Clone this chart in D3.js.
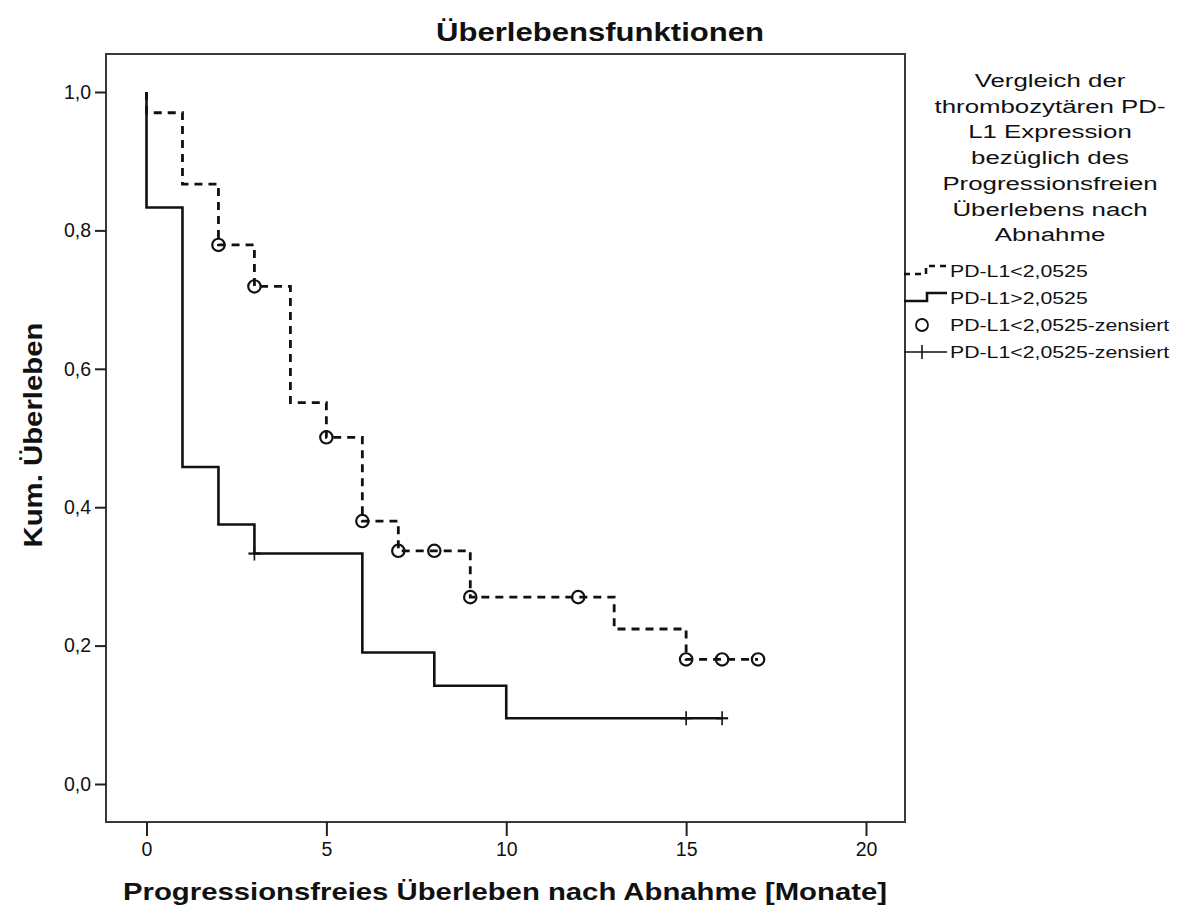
<!DOCTYPE html>
<html>
<head>
<meta charset="utf-8">
<script src="https://cdn.jsdelivr.net/npm/d3@7"></script>
<style>
  html, body { margin: 0; padding: 0; background: #fff; }
  svg { display: block; font-family: "Liberation Sans", Arial, sans-serif; }
</style>
</head>
<body>
<svg id="chart" width="1183" height="914"></svg>
<script>
// Kaplan-Meier survival estimates, group PD-L1 < 2,0525 (dashed)
const lowTimes = [0, 0, 1, 2, 3, 4, 5, 6, 7, 9, 13, 15, 17];
const lowSurv  = [1.0, 0.970, 0.867, 0.779, 0.719, 0.551, 0.501, 0.380, 0.337, 0.270, 0.224, 0.180, 0.180];
const lowCensored = [2, 3, 5, 6, 7, 8, 9, 12, 15, 16, 17];

// Group PD-L1 > 2,0525 (solid)
const highTimes = [0, 0, 1, 2, 3, 6, 8, 10, 16];
const highSurv  = [1.0, 0.833, 0.458, 0.375, 0.333, 0.190, 0.142, 0.095, 0.095];
const highCensored = [3, 15, 16];

const xTicks = [0, 5, 10, 15, 20];
const yTicks = [0, 0.2, 0.4, 0.6, 0.8, 1.0];

const titleText = "Überlebensfunktionen";
const xLabel = "Progressionsfreies Überleben nach Abnahme [Monate]";
const yLabel = "Kum. Überleben";
const legendTitle = ["Vergleich der", "thrombozytären PD-", "L1 Expression", "bezüglich des",
                     "Progressionsfreien", "Überlebens nach", "Abnahme"];
const legendLabels = ["PD-L1<2,0525", "PD-L1>2,0525", "PD-L1<2,0525-zensiert", "PD-L1<2,0525-zensiert"];

const svg = d3.select("#chart");
const frame = { left: 106, top: 54, right: 905, bottom: 822 };

const x = d3.scaleLinear().domain([0, 20]).range([146.5, 866]);
const y = d3.scaleLinear().domain([0, 1]).range([784, 92]);

// plot frame
svg.append("rect")
  .attr("x", frame.left).attr("y", frame.top)
  .attr("width", frame.right - frame.left).attr("height", frame.bottom - frame.top)
  .attr("fill", "none").attr("stroke", "#3a3a3a").attr("stroke-width", 2);

const fmt = d => d3.format(".1f")(d).replace(".", ",");

const yAxis = svg.append("g")
  .attr("transform", `translate(${frame.left},0)`)
  .call(d3.axisLeft(y).tickValues(yTicks).tickFormat(fmt).tickSize(11).tickPadding(4));
const xAxis = svg.append("g")
  .attr("transform", `translate(0,${frame.bottom})`)
  .call(d3.axisBottom(x).tickValues(xTicks).tickFormat(d3.format("d")).tickSize(14).tickPadding(6));
[yAxis, xAxis].forEach(a => {
  a.select(".domain").remove();
  a.selectAll(".tick line").attr("stroke", "#222").attr("stroke-width", 2);
  a.selectAll(".tick text").attr("fill", "#111")
    .style("font-family", "'Liberation Sans', Arial, sans-serif").style("font-size", "19.5px");
});

// step curves
const line = d3.line().curve(d3.curveStepAfter).x(d => x(d[0])).y(d => y(d[1]));
const lowPts = lowTimes.map((t, i) => [t, lowSurv[i]]);
const highPts = highTimes.map((t, i) => [t, highSurv[i]]);

svg.append("path").datum(highPts).attr("d", line)
  .attr("fill", "none").attr("stroke", "#111").attr("stroke-width", 2.6);
svg.append("path").datum(lowPts).attr("d", line)
  .attr("fill", "none").attr("stroke", "#111").attr("stroke-width", 2.8)
  .attr("stroke-dasharray", "8,6");

// value of a step curve at time t
function stepAt(times, surv, t) {
  let v = surv[0];
  times.forEach((tt, i) => { if (tt <= t) v = surv[i]; });
  return v;
}

// censoring marks
svg.append("g").selectAll("circle").data(lowCensored).join("circle")
  .attr("cx", d => x(d)).attr("cy", d => y(stepAt(lowTimes, lowSurv, d)))
  .attr("r", 6.2).attr("fill", "none").attr("stroke", "#111").attr("stroke-width", 2.2);

const plus = svg.append("g").selectAll("g").data(highCensored).join("g")
  .attr("transform", d => `translate(${x(d)},${y(stepAt(highTimes, highSurv, d))})`);
plus.append("line").attr("x1", 0).attr("x2", 0).attr("y1", -7).attr("y2", 7)
  .attr("stroke", "#111").attr("stroke-width", 1.6);
plus.append("line").attr("x1", -6).attr("x2", 6).attr("y1", 0).attr("y2", 0)
  .attr("stroke", "#111").attr("stroke-width", 2.2);

// horizontally stretched text helper
function stretchedText(parent, str, px, py, size, sx, anchor, weight) {
  const g = parent.append("g").attr("transform", `translate(${px},${py}) scale(${sx},1)`);
  g.append("text").attr("text-anchor", anchor).attr("font-size", size)
    .attr("font-weight", weight || "normal").attr("fill", "#111").text(str);
  return g;
}

// titles
svg.append("text").attr("x", 600).attr("y", 41).attr("text-anchor", "middle")
  .attr("font-size", 25).attr("font-weight", "bold").attr("fill", "#111")
  .attr("textLength", 328).attr("lengthAdjust", "spacingAndGlyphs").text(titleText);
svg.append("text").attr("x", 505).attr("y", 900).attr("text-anchor", "middle")
  .attr("font-size", 24).attr("font-weight", "bold").attr("fill", "#111")
  .attr("textLength", 764).attr("lengthAdjust", "spacingAndGlyphs").text(xLabel);
svg.append("text").attr("transform", "translate(42,435) rotate(-90)").attr("text-anchor", "middle")
  .attr("font-size", 25).attr("font-weight", "bold").attr("fill", "#111")
  .attr("textLength", 225).attr("lengthAdjust", "spacingAndGlyphs").text(yLabel);

// legend
const legend = svg.append("g");
legendTitle.forEach((s, i) => stretchedText(legend, s, 1050, 87 + i * 25.7, 19, 1.36, "middle"));

const rowY = [271, 298, 325, 352];
legendLabels.forEach((s, i) => stretchedText(legend, s, 950, rowY[i] + 6, 16, 1.33, "start"));

const stepSym = d3.line().x(d => d[0]).y(d => d[1]);
legend.append("path")
  .attr("d", stepSym([[904, rowY[0] + 3], [926, rowY[0] + 3], [926, rowY[0] - 5], [948, rowY[0] - 5]]))
  .attr("fill", "none").attr("stroke", "#111").attr("stroke-width", 2.6).attr("stroke-dasharray", "6,5");
legend.append("path")
  .attr("d", stepSym([[904, rowY[1] + 3], [927, rowY[1] + 3], [927, rowY[1] - 5], [947, rowY[1] - 5]]))
  .attr("fill", "none").attr("stroke", "#111").attr("stroke-width", 2.6);
legend.append("circle").attr("cx", 922).attr("cy", rowY[2]).attr("r", 6)
  .attr("fill", "none").attr("stroke", "#111").attr("stroke-width", 1.8);
legend.append("line").attr("x1", 904).attr("x2", 947).attr("y1", rowY[3]).attr("y2", rowY[3])
  .attr("stroke", "#111").attr("stroke-width", 1.6);
legend.append("line").attr("x1", 922).attr("x2", 922).attr("y1", rowY[3] - 7).attr("y2", rowY[3] + 7)
  .attr("stroke", "#111").attr("stroke-width", 1.6);
</script>
</body>
</html>
